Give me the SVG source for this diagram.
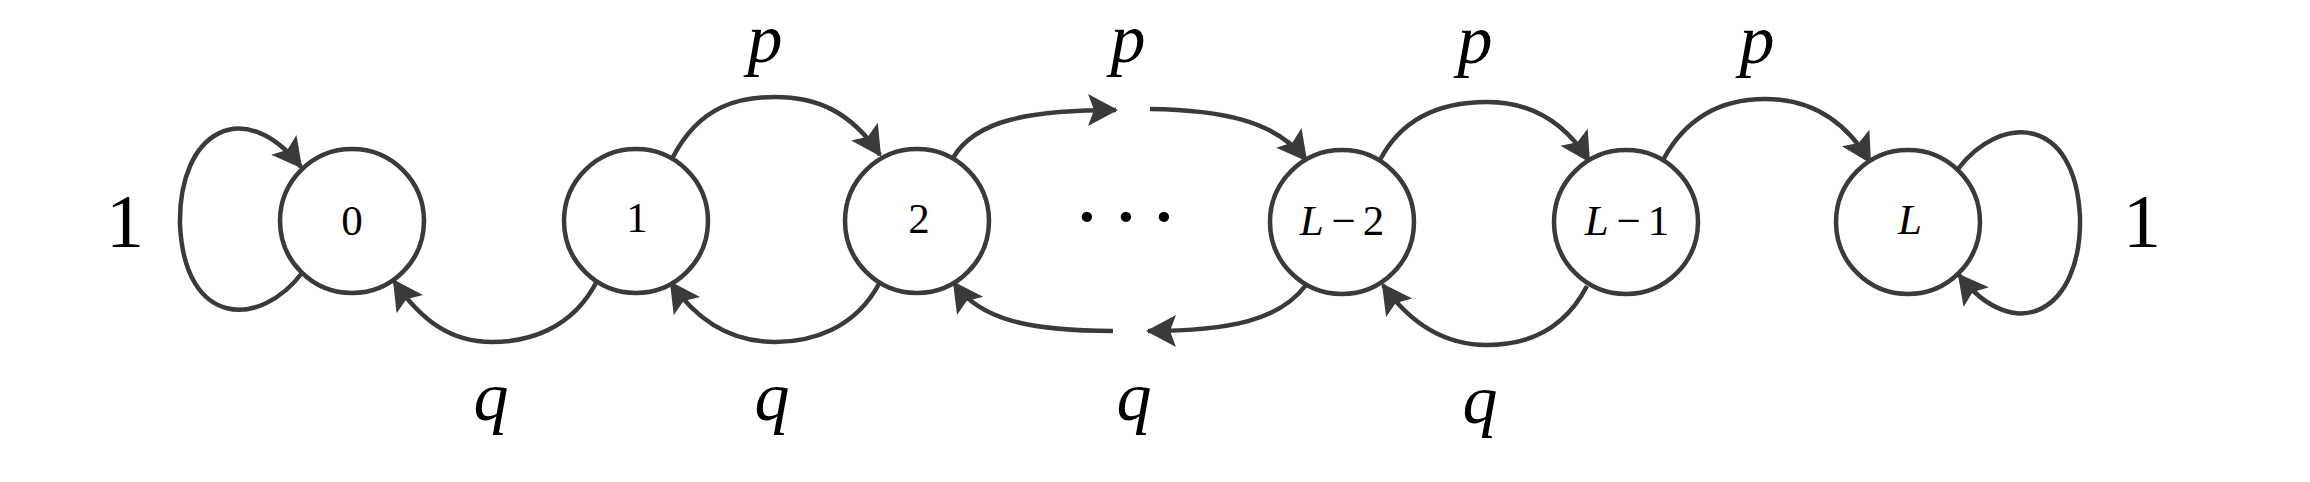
<svg xmlns="http://www.w3.org/2000/svg" width="2310" height="482" viewBox="0 0 2310 482">
<style>
.node circle{fill:#fff;stroke:#3a3a3a;stroke-width:4.5}
.node text{font-family:"Liberation Serif",serif;font-size:43px;text-anchor:middle;fill:#000}
.edge{fill:none;stroke:#3a3a3a;stroke-width:4.5;marker-end:url(#ah)}
.lbl{font-family:"Liberation Serif",serif;font-size:70px;font-style:italic;text-anchor:middle;fill:#000}
.one{font-family:"Liberation Serif",serif;font-size:76px;text-anchor:middle;fill:#000}
.it{font-style:italic}
</style>
<defs>
<marker id="ah" markerUnits="userSpaceOnUse" markerWidth="40" markerHeight="40" viewBox="-32 -20 36 40" refX="0" refY="0" orient="auto">
<path d="M2,0 L-28,-16 L-22,0 L-28,16 Z" fill="#3a3a3a"/>
</marker>
</defs>
<rect width="2310" height="482" fill="#fff"/>
<g id="connectors">
<path class="edge" d="M302,273 C260,328 185,328 180,225 C178,130 245,95 301,167"/>
<path class="edge" d="M1958,169 C2000,114 2075,114 2080,217 C2082,312 2015,347 1959,275"/>
<path class="edge" d="M673,157 C700,105 740,97 775,97 C815,97 850,110 880,155"/>
<path class="edge" d="M953,158 C975,120 1030,110 1116,110"/>
<path class="edge" d="M1150,109 C1220,110 1275,120 1306,160"/>
<path class="edge" d="M1380,160 C1405,112 1450,102 1487,102 C1527,102 1562,118 1589,161"/>
<path class="edge" d="M1663,160 C1690,110 1730,99 1765,99 C1805,99 1842,115 1870,162"/>
<path class="edge" d="M597,281 C572,330 527,342 492,342 C452,342 422,322 394,281"/>
<path class="edge" d="M880,282 C855,330 810,342 775,342 C735,342 700,325 671,283"/>
<path class="edge" d="M1113,331 C1030,331 980,320 954,283"/>
<path class="edge" d="M1306,285 C1280,320 1230,331 1148,331"/>
<path class="edge" d="M1587,286 C1562,334 1522,345 1487,345 C1447,345 1412,326 1383,285"/>
</g>
<g id="n0" class="node"><circle cx="352" cy="221" r="72"/><text x="352" y="235">0</text></g>
<g id="n1" class="node"><circle cx="636" cy="221" r="72"/><text x="637" y="232">1</text></g>
<g id="n2" class="node"><circle cx="917" cy="221" r="72"/><text x="919" y="233">2</text></g>
<g id="nL2" class="node"><circle cx="1342" cy="222" r="72"/><text x="1342" y="235"><tspan class="it">L</tspan><tspan dx="8">−</tspan><tspan dx="7">2</tspan></text></g>
<g id="nL1" class="node"><circle cx="1626" cy="222" r="72"/><text x="1627" y="235"><tspan class="it">L</tspan><tspan dx="8">−</tspan><tspan dx="7">1</tspan></text></g>
<g id="nL" class="node"><circle cx="1908" cy="222" r="72"/><text x="1910" y="234" class="it">L</text></g>
<g id="labels">
<text class="one" x="125" y="247">1</text>
<text class="one" x="2142" y="247">1</text>
<text class="lbl" x="765" y="62">p</text>
<text class="lbl" x="1128" y="62">p</text>
<text class="lbl" x="1475" y="63">p</text>
<text class="lbl" x="1757" y="63">p</text>
<text class="lbl" x="491" y="420">q</text>
<text class="lbl" x="772" y="420">q</text>
<text class="lbl" x="1134" y="420">q</text>
<text class="lbl" x="1480" y="423">q</text>
<text style="font-family:'Liberation Serif',serif;font-size:64px;font-weight:bold;text-anchor:middle;fill:#000" y="238"><tspan x="1087">·</tspan><tspan x="1126">·</tspan><tspan x="1164">·</tspan></text>
</g>
</svg>
